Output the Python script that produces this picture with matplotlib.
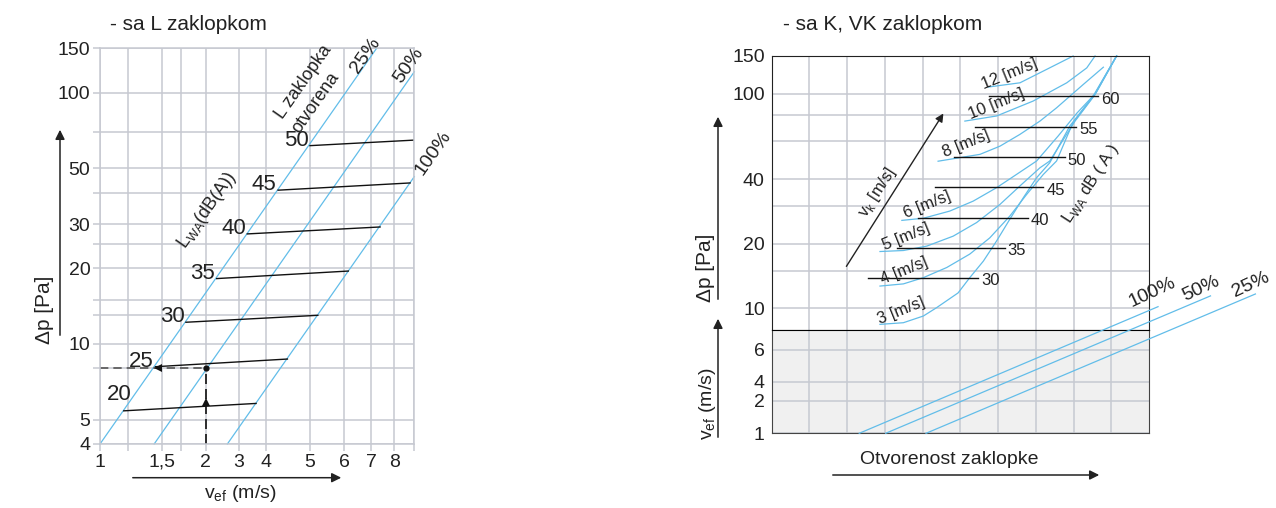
import matplotlib.pyplot as plt
import numpy as np
from matplotlib.ticker import NullFormatter
from matplotlib.patches import FancyArrowPatch

plt.rcParams['font.family'] = ['Liberation Sans', 'DejaVu Sans']
plt.rcParams['mathtext.fontset'] = 'custom'
plt.rcParams['mathtext.rm'] = 'Liberation Sans'
plt.rcParams['text.color'] = '#222222'
plt.rcParams['xtick.color'] = '#222222'
plt.rcParams['ytick.color'] = '#222222'

# ---- left chart: "sa L zaklopkom" ----
L_VEL_GRID = [1, 1.25, 1.5, 1.75, 2, 3, 4, 5, 6, 7, 8, 9]
L_VEL_TICKS = [1, 1.5, 2, 3, 4, 5, 6, 7, 8]
L_VEL_LABELS = ['1', '1,5', '2', '3', '4', '5', '6', '7', '8']
L_DP_TICKS = [4, 5, 10, 20, 30, 50, 100, 150]
L_DP_GRID = [4, 5, 8, 10, 13, 15, 20, 25, 30, 40, 50, 70, 100, 150]

# damper opening lines (v_ef, dp)
L_OPEN_V = [[1.0, 7.24], [1.44, 9.0], [2.65, 9.0]]
L_OPEN_DP = [[4, 150], [4, 121], [4, 46.3]]

# sound power lines L_WA
L_NOISE = [20, 25, 30, 35, 40, 45, 50]
L_NOISE_V = [[1.21, 3.64], [1.45, 4.49], [1.80, 5.23], [2.33, 6.16],
             [3.31, 7.39], [4.28, 8.79], [5.0, 9.0]]
L_NOISE_DP = [[5.42, 5.80], [8.12, 8.71], [12.2, 13.0], [18.2, 19.5],
              [27.4, 29.2], [40.9, 43.7], [61.5, 64.7]]

EXAMPLE_V = 2
EXAMPLE_DP = 8

# ---- right chart: "sa K, VK zaklopkom" ----
R_DP_TICKS = [10, 20, 40, 100, 150]
R_DP_GRID = [10, 15, 20, 30, 40, 60, 80, 100]
R_VEF_TICKS = [1, 2, 4, 6]

R_SPEEDS = [3, 4, 5, 6, 8, 10, 12]
R_SPEED_U = [
    [2.87, 3.49, 4.02, 4.37, 4.94, 5.25, 5.61, 5.96, 6.31, 6.67, 7.02, 7.37, 7.90, 8.52, 9.14],
    [2.87, 3.49, 4.02, 4.64, 5.25, 5.78, 6.31, 6.76, 7.20, 7.55, 7.98, 8.55, 9.14],
    [2.87, 3.49, 4.11, 4.81, 5.43, 6.05, 6.58, 7.11, 7.37, 8.04, 8.57, 9.14],
    [3.45, 4.02, 4.72, 5.34, 5.96, 6.49, 7.02, 7.59, 8.09, 8.59, 9.14],
    [4.41, 5.52, 6.05, 6.58, 7.11, 7.55, 8.26, 8.79],
    [5.12, 5.96, 6.93, 7.82, 8.35, 8.57],
    [5.74, 6.58, 7.29, 7.99],
]
R_SPEED_DP = [
    [8.42, 8.57, 9.21, 10.07, 11.8, 13.9, 16.6, 20.6, 26.0, 32.8, 40.6, 47.7, 70.7, 97.6, 150],
    [12.7, 13.0, 13.9, 15.5, 17.9, 21.3, 26.9, 34.0, 42.1, 48.6, 73.0, 98.6, 150],
    [18.4, 18.6, 19.5, 21.7, 25.1, 30.5, 37.2, 45.2, 48.6, 74.6, 99.1, 150],
    [25.7, 26.3, 28.4, 31.6, 36.5, 42.1, 48.6, 63.5, 81.3, 100.8, 150],
    [48.5, 52.2, 57.0, 64.7, 74.6, 86.0, 110.6, 133],
    [74.6, 78.8, 92.5, 112.5, 132, 150],
    [107.5, 112.5, 130, 150],
]
R_SPEED_LABEL_U = [3.42, 3.51, 3.56, 4.12, 5.15, 5.97, 6.31]
R_SPEED_LABEL_DP = [9.7, 14.9, 21.5, 30.3, 58.4, 89.5, 123.5]

R_NOISE = [30, 35, 40, 45, 50, 55, 60]
R_NOISE_U = [[2.56, 5.47], [3.31, 6.18], [3.89, 6.80], [4.32, 7.20],
             [4.83, 7.77], [5.39, 8.07], [5.77, 8.66]]
R_NOISE_DP = [13.9, 19.2, 26.5, 36.6, 50.6, 70.2, 97.2]

R_OPEN_LABELS = ['100%', '50%', '25%']
R_OPEN_U = [[2.32, 10.24], [3.02, 11.63], [4.09, 12.82]]
R_OPEN_VEF = [[1, 8.73], [1, 9.41], [1, 9.53]]

GRID = '#c6c9d1'
BLUE = '#62bde9'
W, H = 1276, 508


def piecewise(xp, fp):
    xp = np.asarray(xp, float)
    fp = np.asarray(fp, float)

    def f(x):
        x = np.asarray(x, float)
        y = np.interp(x, xp, fp)
        lo = fp[0] + (x - xp[0]) * (fp[1] - fp[0]) / (xp[1] - xp[0])
        hi = fp[-1] + (x - xp[-1]) * (fp[-1] - fp[-2]) / (xp[-1] - xp[-2])
        return np.where(x < xp[0], lo, np.where(x > xp[-1], hi, y))
    return f


def box(l, t, r, b):
    return [l / W, 1 - b / H, (r - l) / W, (b - t) / H]


def fig_arrow(x0, y0, x1, y1):
    fig.add_artist(FancyArrowPatch(
        (x0 / W, 1 - y0 / H), (x1 / W, 1 - y1 / H), transform=fig.transFigure,
        arrowstyle='-|>', mutation_scale=14, color='#222222', lw=1.1))


def ftext(x, y, s, **kw):
    kw.setdefault('ha', 'center')
    kw.setdefault('va', 'center')
    fig.text(x / W, 1 - y / H, s, **kw)


fig = plt.figure(figsize=(W / 100, H / 100), dpi=100)

# ================= left =================
ax = fig.add_axes(box(100, 48.3, 414.3, 444))
pos = [0, 28.3, 62.3, 81, 105.7, 139, 165.7, 210, 244, 271, 294.3, 314.3]
ax.set_xscale('function', functions=(piecewise(L_VEL_GRID, pos), piecewise(pos, L_VEL_GRID)))
ax.set_yscale('log')
ax.set_xlim(1, 9)
ax.set_ylim(4, 150)
ax.set_xticks(L_VEL_TICKS, L_VEL_LABELS)
ax.set_xticks(L_VEL_GRID, minor=True)
ax.set_yticks(L_DP_TICKS, [str(v) for v in L_DP_TICKS])
ax.set_yticks(L_DP_GRID, minor=True)
ax.xaxis.set_minor_formatter(NullFormatter())
ax.yaxis.set_minor_formatter(NullFormatter())
ax.grid(which='both', color=GRID, lw=1.1)
ax.tick_params(which='both', length=5, color=GRID, width=1.1, labelsize=14, pad=2)
for s in ax.spines.values():
    s.set_color(GRID)
    s.set_linewidth(1.1)

for v, dp in zip(L_OPEN_V, L_OPEN_DP):
    ax.plot(v, dp, color=BLUE, lw=0.9, clip_on=False)

for lab, v, dp in zip(L_NOISE, L_NOISE_V, L_NOISE_DP):
    ax.plot(v, dp, color='#111111', lw=1.0)
    off = (6, 12) if lab == 20 else (-1, 4)
    ax.annotate(str(lab), (v[0], dp[0]), xytext=off, textcoords='offset points',
                ha='right', va='center', fontsize=16)

ax.plot([1, EXAMPLE_V], [EXAMPLE_DP, EXAMPLE_DP], color='#555555', lw=1.2, ls=(0, (5, 3)))
ax.plot([EXAMPLE_V, EXAMPLE_V], [4, EXAMPLE_DP], color='#111111', lw=1.2, ls=(0, (6, 3)))
ax.plot(EXAMPLE_V, EXAMPLE_DP, 'o', color='#111111', ms=3.5)
ax.plot(1.47, EXAMPLE_DP, marker='<', color='#111111', ms=6, mew=0)
ax.plot(EXAMPLE_V, 5.9, marker='^', color='#111111', ms=6, mew=0)

ftext(110, 25, '- sa L zaklopkom', ha='left', fontsize=15)
ftext(44, 310, 'Δp [Pa]', rotation=90, fontsize=15)
fig_arrow(60, 338, 60, 127)
ftext(240, 494, r'v$_{\mathrm{ef}}$ (m/s)', fontsize=14)
fig_arrow(130, 477.7, 344, 477.7)
ftext(366, 55, '25%', rotation=55, fontsize=14)
ftext(409, 65, '50%', rotation=55, fontsize=14)
ftext(433, 153, '100%', rotation=55, fontsize=14)
ftext(304, 82, 'L zaklopka', rotation=55, fontsize=13)
ftext(316, 103, 'otvorena', rotation=55, fontsize=13)
ftext(207, 210, r'L$_{\mathrm{WA}}$(dB(A))', rotation=55, fontsize=13)

# ================= right =================
axr = fig.add_axes(box(771.7, 56, 1149, 330.3))
axr.set_yscale('log')
axr.set_xlim(0, 10)
axr.set_ylim(7.9, 150)
axr.set_xticks([])
axr.set_xticks(range(1, 10), minor=True)
axr.set_yticks(R_DP_TICKS, [str(v) for v in R_DP_TICKS])
axr.set_yticks(R_DP_GRID, minor=True)
axr.xaxis.set_minor_formatter(NullFormatter())
axr.yaxis.set_minor_formatter(NullFormatter())
axr.grid(which='both', color=GRID, lw=1.1)
axr.tick_params(which='both', length=0, labelsize=14, pad=5)
for s in axr.spines.values():
    s.set_color('#222222')

for u, dp in zip(R_SPEED_U, R_SPEED_DP):
    axr.plot(u, dp, color=BLUE, lw=0.9, clip_on=False)
for sp, u, dp in zip(R_SPEEDS, R_SPEED_LABEL_U, R_SPEED_LABEL_DP):
    axr.text(u, dp, f'{sp} [m/s]', rotation=22, ha='center', va='center', fontsize=12)

for lab, u, dp in zip(R_NOISE, R_NOISE_U, R_NOISE_DP):
    axr.plot(u, [dp, dp], color='#111111', lw=1.0)
    axr.annotate(str(lab), (u[1], dp), xytext=(2, -2), textcoords='offset points',
                 ha='left', va='center', fontsize=12)

axr.annotate('', xy=(4.59, 83), xytext=(1.94, 15.3),
             arrowprops=dict(arrowstyle='-|>', color='#222222', lw=1.0, mutation_scale=12))

axv = fig.add_axes(box(771.7, 330.3, 1149, 433.3))
axv.set_facecolor('#f0f0f0')
axv.set_yscale('function', functions=(piecewise(R_VEF_TICKS, [0, 32.6, 51.6, 83.3]),
                                      piecewise([0, 32.6, 51.6, 83.3], R_VEF_TICKS)))
axv.set_xlim(0, 10)
axv.set_ylim(1, 7.24)
axv.set_xticks([])
axv.set_xticks(range(1, 10), minor=True)
axv.set_yticks(R_VEF_TICKS, [str(v) for v in R_VEF_TICKS])
axv.yaxis.set_minor_formatter(NullFormatter())
axv.grid(which='both', color=GRID, lw=1.1)
axv.tick_params(which='both', length=0, labelsize=14, pad=5)
for s in axv.spines.values():
    s.set_color('#444444')
axv.spines['top'].set_color('#000000')

for u, v in zip(R_OPEN_U, R_OPEN_VEF):
    axv.plot(u, v, color=BLUE, lw=0.9, clip_on=False, zorder=3)

ftext(783, 25, '- sa K, VK zaklopkom', ha='left', fontsize=15)
ftext(706, 268, 'Δp [Pa]', rotation=90, fontsize=15)
fig_arrow(718, 302, 718, 114)
ftext(707, 404, r'v$_{\mathrm{ef}}$ (m/s)', rotation=90, fontsize=14)
fig_arrow(718, 440, 718, 316)
ftext(949, 460, 'Otvorenost zaklopke', fontsize=14)
fig_arrow(830, 475, 1102, 475)
for lab, x, y in zip(R_OPEN_LABELS, [1152, 1201, 1251], [292, 289, 285]):
    ftext(x, y, lab, rotation=25, fontsize=14)
ftext(1091, 184, r'L$_{\mathrm{WA}}$ dB ( A )', rotation=57, fontsize=12)
ftext(877, 192, r'v$_{\mathrm{k}}$ [m/s]', rotation=57, fontsize=12)

fig.savefig('out.png', dpi=100)
